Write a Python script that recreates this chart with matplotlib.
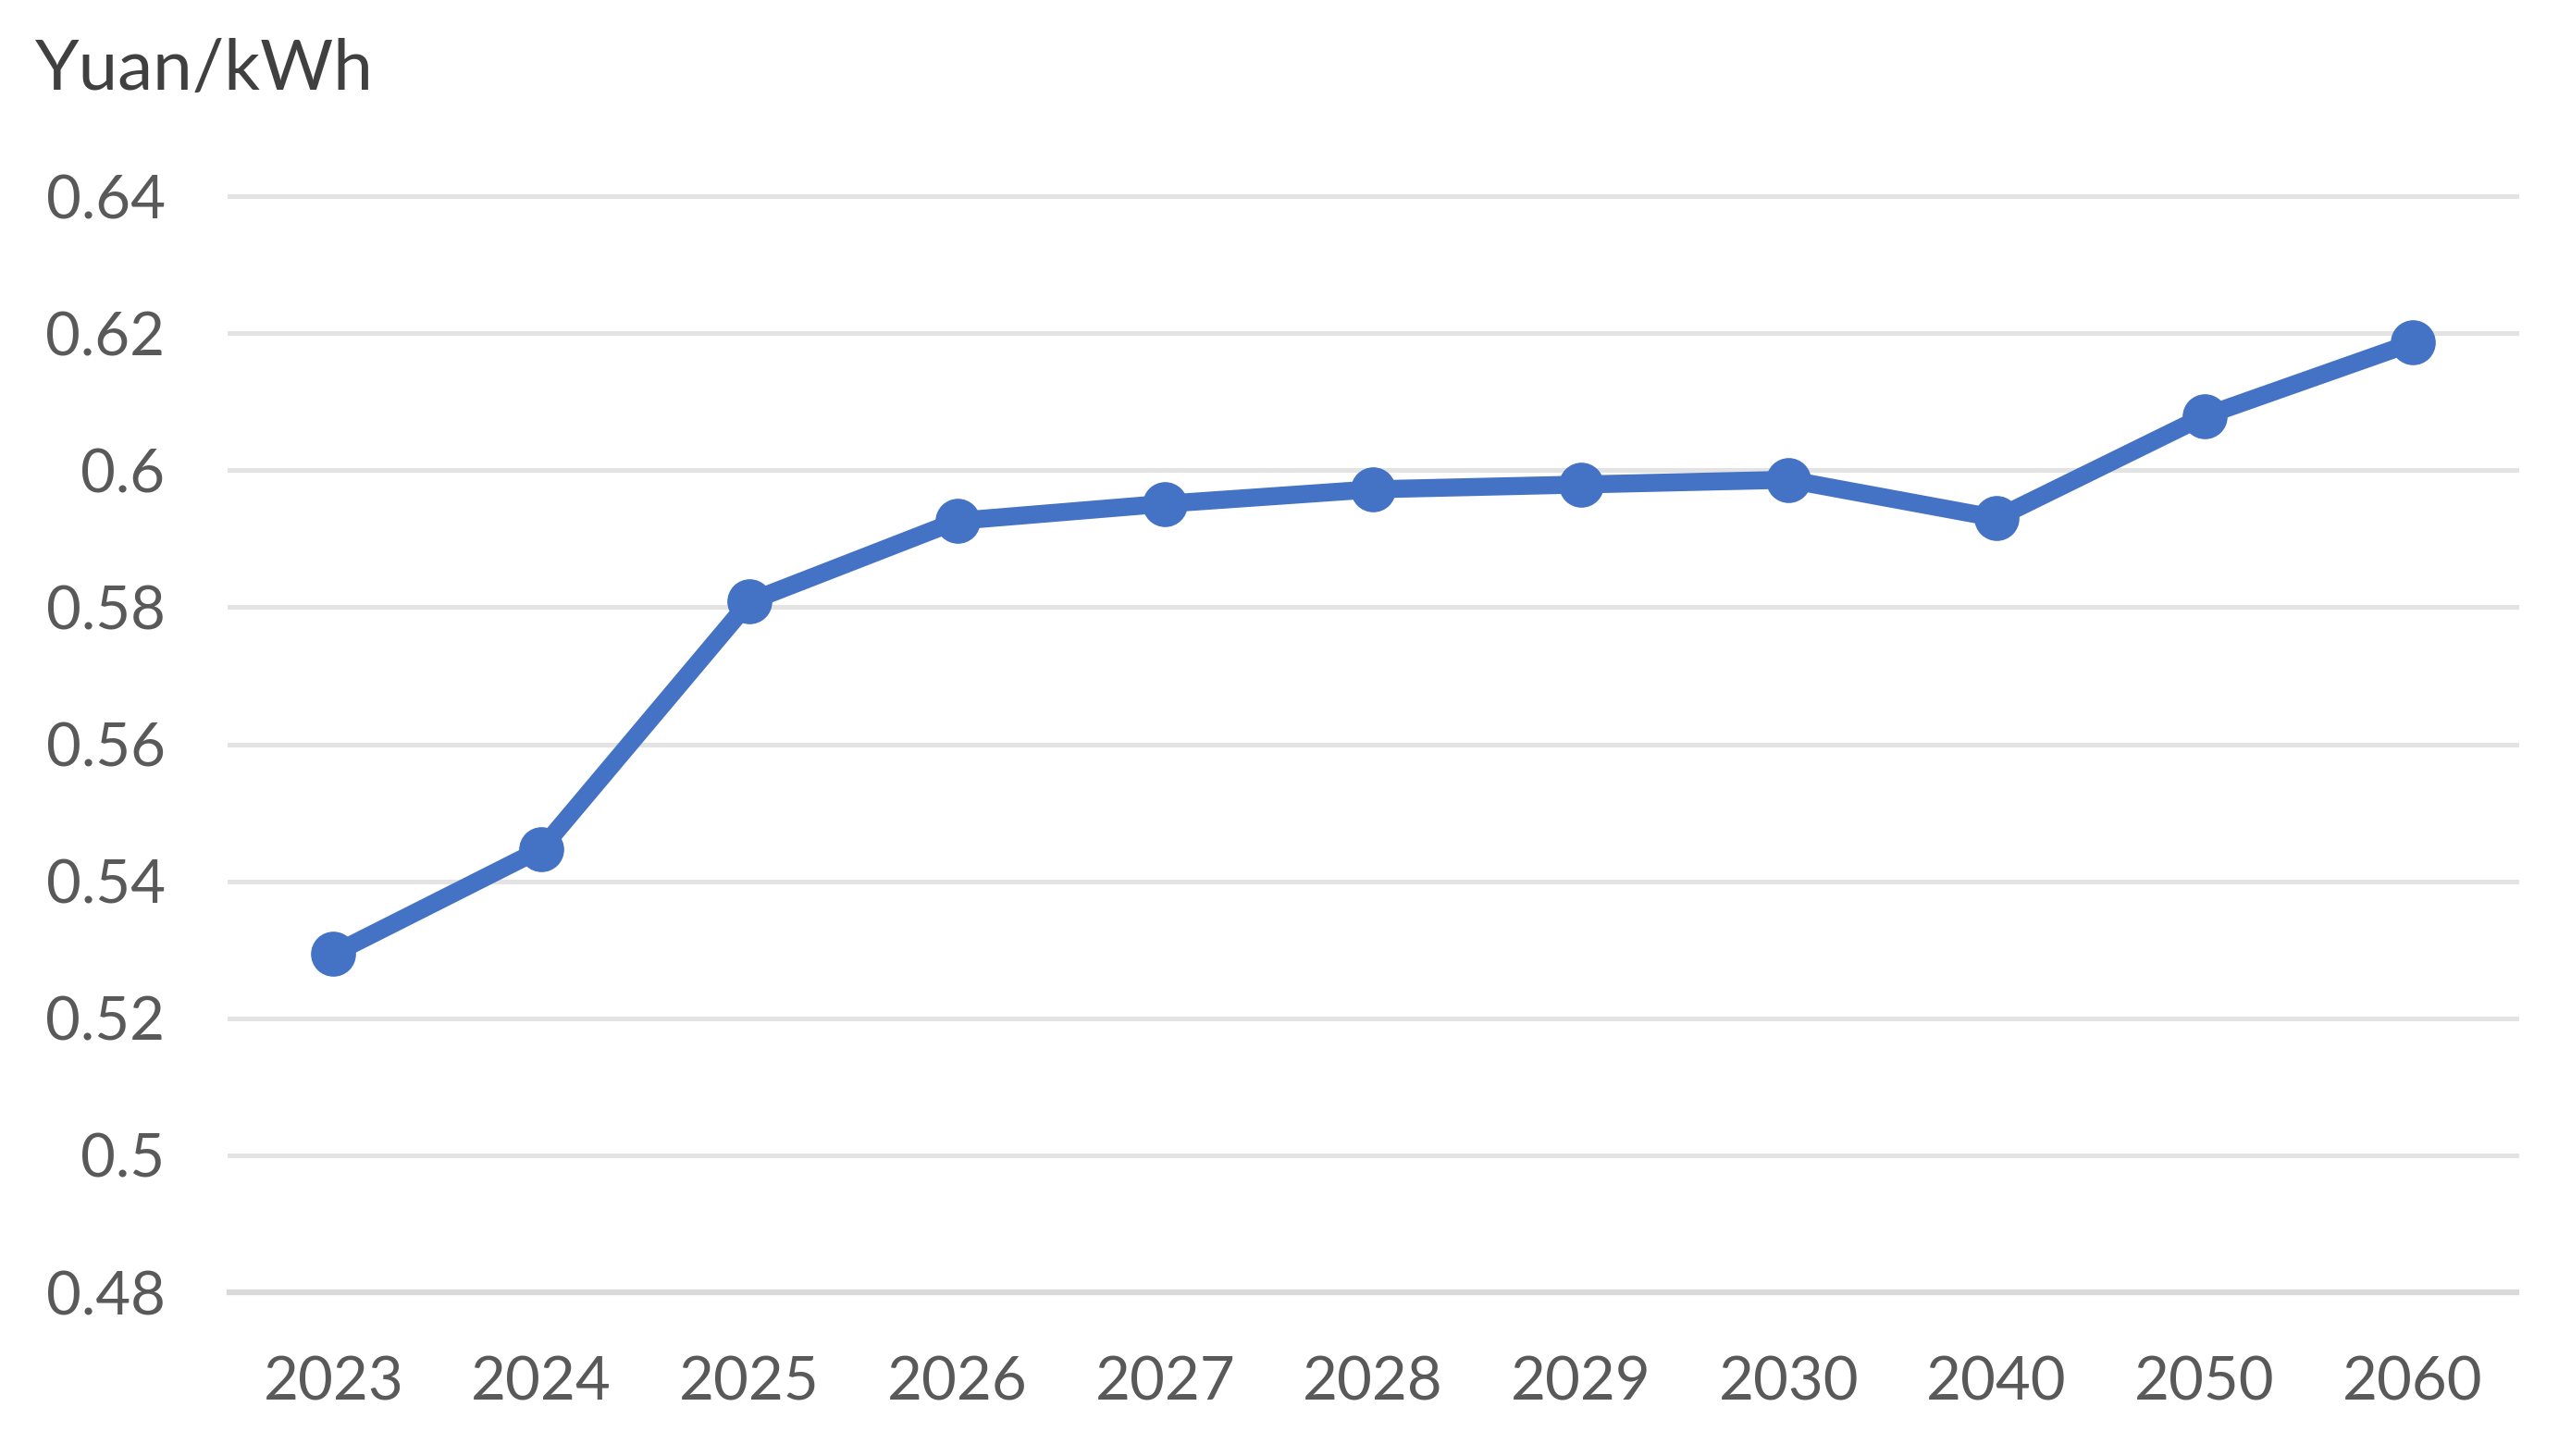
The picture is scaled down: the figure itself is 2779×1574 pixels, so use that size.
import matplotlib
matplotlib.use("Agg")
import matplotlib.pyplot as plt

categories = ["2023", "2024", "2025", "2026", "2027", "2028", "2029", "2030", "2040", "2050", "2060"]
values = [0.5294, 0.5447, 0.5808, 0.5926, 0.5951, 0.5972, 0.5979, 0.5986, 0.5930, 0.6079, 0.6186]
y_ticks = [0.48, 0.50, 0.52, 0.54, 0.56, 0.58, 0.60, 0.62, 0.64]
y_tick_labels = ["0.48", "0.5", "0.52", "0.54", "0.56", "0.58", "0.6", "0.62", "0.64"]
unit_label = "Yuan/kWh"

plt.rcParams['font.family'] = ['Lato', 'DejaVu Sans']

fig = plt.figure(figsize=(27.79, 15.74), dpi=100)
ax = fig.add_axes([248/2779, 1 - 1397/1574, (2720-248)/2779, (1397-212)/1574])

x = list(range(len(categories)))
ax.set_xlim(-0.5, len(categories) - 0.5)
ax.set_ylim(0.48, 0.64)

for t in y_ticks[1:]:
    ax.axhline(t, color="#E3E3E3", lw=3.6, zorder=1, clip_on=False)
ax.axhline(y_ticks[0], color="#D9D9D9", lw=4.5, zorder=1, clip_on=False)

ax.plot(x, values, color="#4472C4", lw=14, marker="o", markersize=34,
        markerfacecolor="#4472C4", markeredgecolor="#4472C4", zorder=3,
        solid_joinstyle="round", clip_on=False)

ax.set_xticks(x)
ax.set_xticklabels(categories)
ax.set_yticks(y_ticks)
ax.set_yticklabels(y_tick_labels)
ax.tick_params(axis="both", length=0, labelsize=47, labelcolor="#595959")
ax.tick_params(axis="y", pad=50)
ax.tick_params(axis="x", pad=49)

for s in ax.spines.values():
    s.set_visible(False)

fig.text(38/2779, 1 - 97/1574, unit_label, fontsize=55, color="#404040",
         ha="left", va="baseline")

fig.savefig("out.png", dpi=100, facecolor="white")
